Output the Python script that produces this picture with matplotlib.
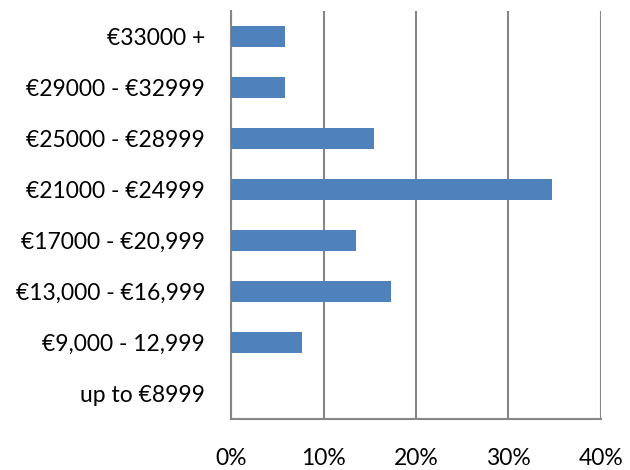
import matplotlib
matplotlib.use("Agg")
import matplotlib.pyplot as plt
from matplotlib.ticker import FuncFormatter

categories = ["up to €8999", "€9,000 - 12,999", "€13,000 - €16,999", "€17000 - €20,999",
              "€21000 - €24999", "€25000 - €28999", "€29000 - €32999", "€33000 +"]
values = [0.0, 7.7, 17.3, 13.5, 34.7, 15.4, 5.8, 5.8]
x_ticks = [0, 10, 20, 30, 40]

plt.rcParams['font.family'] = ['Lato', 'DejaVu Sans']

fig = plt.figure(figsize=(6.3, 4.7), dpi=100)
ax = fig.add_axes([231.3/630, 1-419/470, (600.7-231.3)/630, (419-11)/470])

ypos = range(len(categories))
ax.barh(ypos, values, height=0.4, color="#4F81BD", edgecolor="none", zorder=3)
ax.set_ylim(-0.5, len(categories)-0.5)
ax.set_xlim(0, 40)
ax.set_xticks(x_ticks)
ax.xaxis.set_major_formatter(FuncFormatter(lambda v, p: f"{v:.0f}%"))
ax.set_yticks(list(ypos))
ax.set_yticklabels(categories)

ax.grid(axis="x", color="#868686", linewidth=1.5, zorder=0)
for s in ["top", "right"]:
    ax.spines[s].set_visible(False)
for s in ["left", "bottom"]:
    ax.spines[s].set_color("#868686")
    ax.spines[s].set_linewidth(1.5)
ax.tick_params(axis="both", length=0, labelsize=16.5, colors="black")
ax.tick_params(axis="y", pad=19)
ax.tick_params(axis="x", pad=21)

fig.savefig("out.png", dpi=100)
